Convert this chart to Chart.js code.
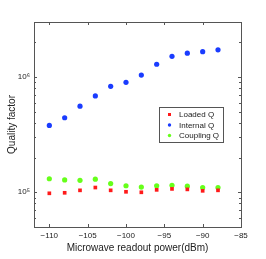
<!DOCTYPE html>
<html><head><meta charset="utf-8">
<script src="https://cdn.jsdelivr.net/npm/chart.js@4/dist/chart.umd.min.js"></script>
<style>html,body{margin:0;padding:0;background:#fff}#w{width:266px;height:259px}</style>
</head><body><div id="w"><canvas id="c"></canvas></div>
<script>
const powers = [-110,-108,-106,-104,-102,-100,-98,-96,-94,-92,-90,-88];
const loadedQ = [0.98e5,0.99e5,1.04e5,1.10e5,1.04e5,1.01e5,1.00e5,1.05e5,1.07e5,1.06e5,1.03e5,1.04e5];
const internalQ = [3.8e5,4.43e5,5.58e5,6.86e5,8.3e5,9.0e5,1.04e6,1.29e6,1.51e6,1.61e6,1.66e6,1.72e6];
const couplingQ = [1.31e5,1.28e5,1.27e5,1.30e5,1.19e5,1.14e5,1.11e5,1.14e5,1.15e5,1.13e5,1.10e5,1.10e5];
const xTicks = [-110,-105,-100,-95,-90,-85];
const yTicks = [1e5,1e6];
const yTickLabels = ['10\u2075','10\u2076'];
const seriesNames = ['Loaded Q','Internal Q','Coupling Q'];

const FONT = 'Liberation Sans, Arial, sans-serif';
const mk = (arr) => powers.map((p,i)=>({x:p,y:arr[i]}));

const boxPlugin = {
  id:'box',
  afterDatasetsDraw(chart){
    const {ctx, chartArea:a, scales:{x,y}} = chart;
    ctx.save();
    ctx.strokeStyle='#555'; ctx.lineWidth=1;
    ctx.strokeRect(Math.round(a.left)+0.5, Math.round(a.top)+0.5, Math.round(a.right-a.left), Math.round(a.bottom-a.top));
    ctx.beginPath();
    const L=3;
    xTicks.forEach(v=>{
      const px=Math.round(x.getPixelForValue(v))+0.5;
      ctx.moveTo(px,a.bottom); ctx.lineTo(px,a.bottom-L);
      ctx.moveTo(px,a.top); ctx.lineTo(px,a.top+L);
    });
    for(let d=4; d<=6; d++){
      for(let m=1;m<=9;m++){
        const v=m*Math.pow(10,d);
        if(v<y.min||v>y.max) continue;
        const py=Math.round(y.getPixelForValue(v))+0.5;
        const len = m===1?L:2;
        ctx.moveTo(a.left,py); ctx.lineTo(a.left+len,py);
        ctx.moveTo(a.right,py); ctx.lineTo(a.right-len,py);
      }
    }
    ctx.stroke();
    // legend
    const lx=159, ly=107, lw=64, lh=35;
    ctx.fillStyle='#fff';
    ctx.fillRect(lx,ly,lw,lh);
    ctx.strokeStyle='#555';
    ctx.strokeRect(lx+0.5,ly+0.5,lw,lh);
    ctx.font='8px '+FONT;
    ctx.textBaseline='middle';
    chart.data.datasets.forEach((ds,i)=>{
      const yy = ly+7.5+i*10.5;
      ctx.fillStyle=ds.backgroundColor;
      if(ds.pointStyle==='rect') ctx.fillRect(lx+9,yy-1.5,3,3);
      else { ctx.beginPath(); ctx.arc(lx+10.5,yy,1.7,0,Math.PI*2); ctx.fill(); }
      ctx.fillStyle='#222';
      ctx.fillText(ds.label, lx+20, yy+0.5);
    });
    ctx.restore();
  }
};

new Chart(document.getElementById('c'),{
  type:'scatter',
  data:{datasets:[
    {label:seriesNames[0],data:mk(loadedQ),backgroundColor:'#ff1a1a',borderColor:'#ff1a1a',pointStyle:'rect',pointRadius:2.6,borderWidth:0},
    {label:seriesNames[1],data:mk(internalQ),backgroundColor:'#1a3cff',borderColor:'#1a3cff',pointStyle:'circle',pointRadius:2.6,borderWidth:0},
    {label:seriesNames[2],data:mk(couplingQ),backgroundColor:'#66ff1a',borderColor:'#66ff1a',pointStyle:'circle',pointRadius:2.6,borderWidth:0}
  ]},
  options:{
    responsive:true, maintainAspectRatio:false, animation:false,
    layout:{padding:{left:6,right:25,top:22,bottom:5}},
    plugins:{legend:{display:false},tooltip:{enabled:false}},
    scales:{
      x:{type:'linear',min:-112,max:-85,
        afterBuildTicks(s){s.ticks=xTicks.map(v=>({value:v}));},
        afterFit(s){s.height=27;},
        grid:{display:false,drawTicks:false},border:{display:false},
        ticks:{padding:4,font:{family:FONT,size:8},color:'#222',maxRotation:0,callback:v=>String(v).replace('-','\u2212')},
        title:{display:true,text:'Microwave readout power(dBm)',font:{family:FONT,size:10},color:'#222',padding:{top:0,bottom:0}}
      },
      y:{type:'logarithmic',min:5e4,max:3e6,
        afterBuildTicks(s){s.ticks=yTicks.map(v=>({value:v}));},
        afterFit(s){s.width=28;},
        grid:{display:false,drawTicks:false},border:{display:false},
        ticks:{padding:4,font:{family:FONT,size:8},color:'#222',callback:(v)=>yTickLabels[yTicks.indexOf(v)]},
        title:{display:true,text:'Quality factor',font:{family:FONT,size:10},color:'#222',padding:{top:0,bottom:0}}
      }
    }
  },
  plugins:[boxPlugin]
});
</script></body></html>
